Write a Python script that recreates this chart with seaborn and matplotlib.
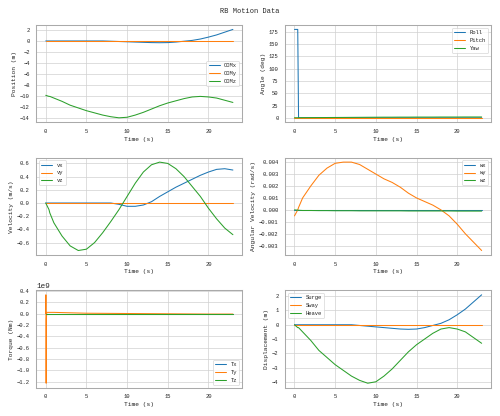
import numpy as np
import pandas as pd
import matplotlib.pyplot as plt
from matplotlib.ticker import MultipleLocator
import seaborn as sns

sns.set_theme(style='whitegrid', palette='tab10')
plt.rcParams['font.family'] = ['Liberation Mono', 'DejaVu Sans Mono']
plt.rcParams['axes.edgecolor'] = '#aaaaaa'
plt.rcParams['grid.color'] = '#d0d0d0'

time = [0, 0.4, 0.5, 1, 2, 3, 4, 5, 6, 7, 8, 9, 10, 11, 12, 13, 14, 15, 16, 17, 18, 19, 20, 21, 22, 23]
com_x = [0, 0, 0, 0, 0, 0, 0, 0, 0, 0, -0.05, -0.1, -0.15, -0.2, -0.25, -0.3, -0.32, -0.3, -0.2, -0.05, 0.1, 0.35, 0.7, 1.1, 1.6, 2.1]
com_y = [0] * 26
com_z = [-9.9, -10.1, -10.1, -10.4, -11.0, -11.7, -12.2, -12.7, -13.1, -13.5, -13.8, -14.0, -13.9, -13.5, -13.0, -12.4, -11.8, -11.3, -10.9, -10.5, -10.2, -10.1, -10.2, -10.4, -10.8, -11.2]
roll = [180, 180, 0] + [0] * 23
pitch = [0] * 26
yaw = [0.2, 0.2, 0.2, 0.3, 0.4, 0.5, 0.6, 0.7, 0.8, 0.9, 1.0, 1.1, 1.2, 1.3, 1.3, 1.4, 1.4, 1.5, 1.5, 1.5, 1.6, 1.6, 1.6, 1.7, 1.7, 1.7]
vx = [0, 0, 0, 0, 0, 0, 0, 0, 0, 0, 0, -0.02, -0.05, -0.05, -0.03, 0.02, 0.1, 0.17, 0.24, 0.3, 0.36, 0.42, 0.47, 0.51, 0.52, 0.5]
vy = [0] * 26
vz = [0, -0.1, -0.15, -0.3, -0.5, -0.65, -0.72, -0.7, -0.6, -0.45, -0.28, -0.1, 0.1, 0.3, 0.47, 0.58, 0.62, 0.6, 0.52, 0.4, 0.25, 0.1, -0.08, -0.24, -0.38, -0.48]
wx = [0.0] * 26
wy = [-0.0005, 0.0, 0.0002, 0.001, 0.002, 0.0029, 0.0035, 0.0039, 0.004, 0.004, 0.0038, 0.0034, 0.003, 0.0026, 0.0023, 0.0019, 0.0014, 0.001, 0.0007, 0.0004, 0.0, -0.0005, -0.0012, -0.002, -0.0027, -0.0034]
wz = [0.0, -0.00002, -0.00003, -0.00005, -0.00005, -0.00006, -0.00006, -0.00007, -0.00007, -0.00007, -0.00008, -0.00008, -0.00008, -0.00008, -0.00008, -0.00008, -0.00009, -0.00009, -0.00009, -0.00009, -0.00009, -0.00009, -0.0001, -0.0001, -0.0001, -0.0001]
torque_time = [0, 0.02, 0.05, 0.08, 0.12, 1, 5, 10, 15, 20, 23]
tx = [0, 0, 0, 0, 0, 0, 0, 0, 0, 0, 0]
ty = [0.0, 0.33e9, -1.23e9, -0.1e9, 0.02e9, 0.02e9, 0.005e9, 0.0, -0.005e9, -0.01e9, -0.01e9]
tz = [0, 0, 0, 0, 0, 0, 0, 0, 0, 0, 0]
surge = com_x
sway = [0] * 26
heave = [0, -0.2, -0.2, -0.5, -1.1, -1.8, -2.3, -2.8, -3.2, -3.6, -3.9, -4.1, -4.0, -3.6, -3.1, -2.5, -1.9, -1.4, -1.0, -0.6, -0.3, -0.2, -0.3, -0.5, -0.9, -1.3]

fig, axes = plt.subplots(3, 2, figsize=(10, 8.32), dpi=50)
panels = [
    (axes[0][0], time, {'COMx': com_x, 'COMy': com_y, 'COMz': com_z}, 'Position (m)', 'center right', 2),
    (axes[0][1], time, {'Roll': roll, 'Pitch': pitch, 'Yaw': yaw}, 'Angle (deg)', 'upper right', 25),
    (axes[1][0], time, {'vx': vx, 'vy': vy, 'vz': vz}, 'Velocity (m/s)', 'upper left', 0.2),
    (axes[1][1], time, {'wx': wx, 'wy': wy, 'wz': wz}, 'Angular Velocity (rad/s)', 'upper right', 0.001),
    (axes[2][0], torque_time, {'Tx': tx, 'Ty': ty, 'Tz': tz}, 'Torque (Nm)', 'lower right', 0.2e9),
    (axes[2][1], time, {'Surge': surge, 'Sway': sway, 'Heave': heave}, 'Displacement (m)', 'upper left', 1),
]
for ax, t, series, ylabel, loc, step in panels:
    for name, vals in series.items():
        sns.lineplot(x=t, y=vals, ax=ax, label=name, linewidth=1.5)
    ax.set_xlabel('Time (s)', fontsize=9)
    ax.set_ylabel(ylabel, fontsize=9)
    ax.yaxis.set_major_locator(MultipleLocator(step))
    ax.tick_params(labelsize=8)
    ax.legend(loc=loc, fontsize=8)
    for s in ax.spines.values():
        s.set_linewidth(1.5)

fig.suptitle('RB Motion Data', fontsize=10)
fig.tight_layout()
fig.savefig('out.png')
